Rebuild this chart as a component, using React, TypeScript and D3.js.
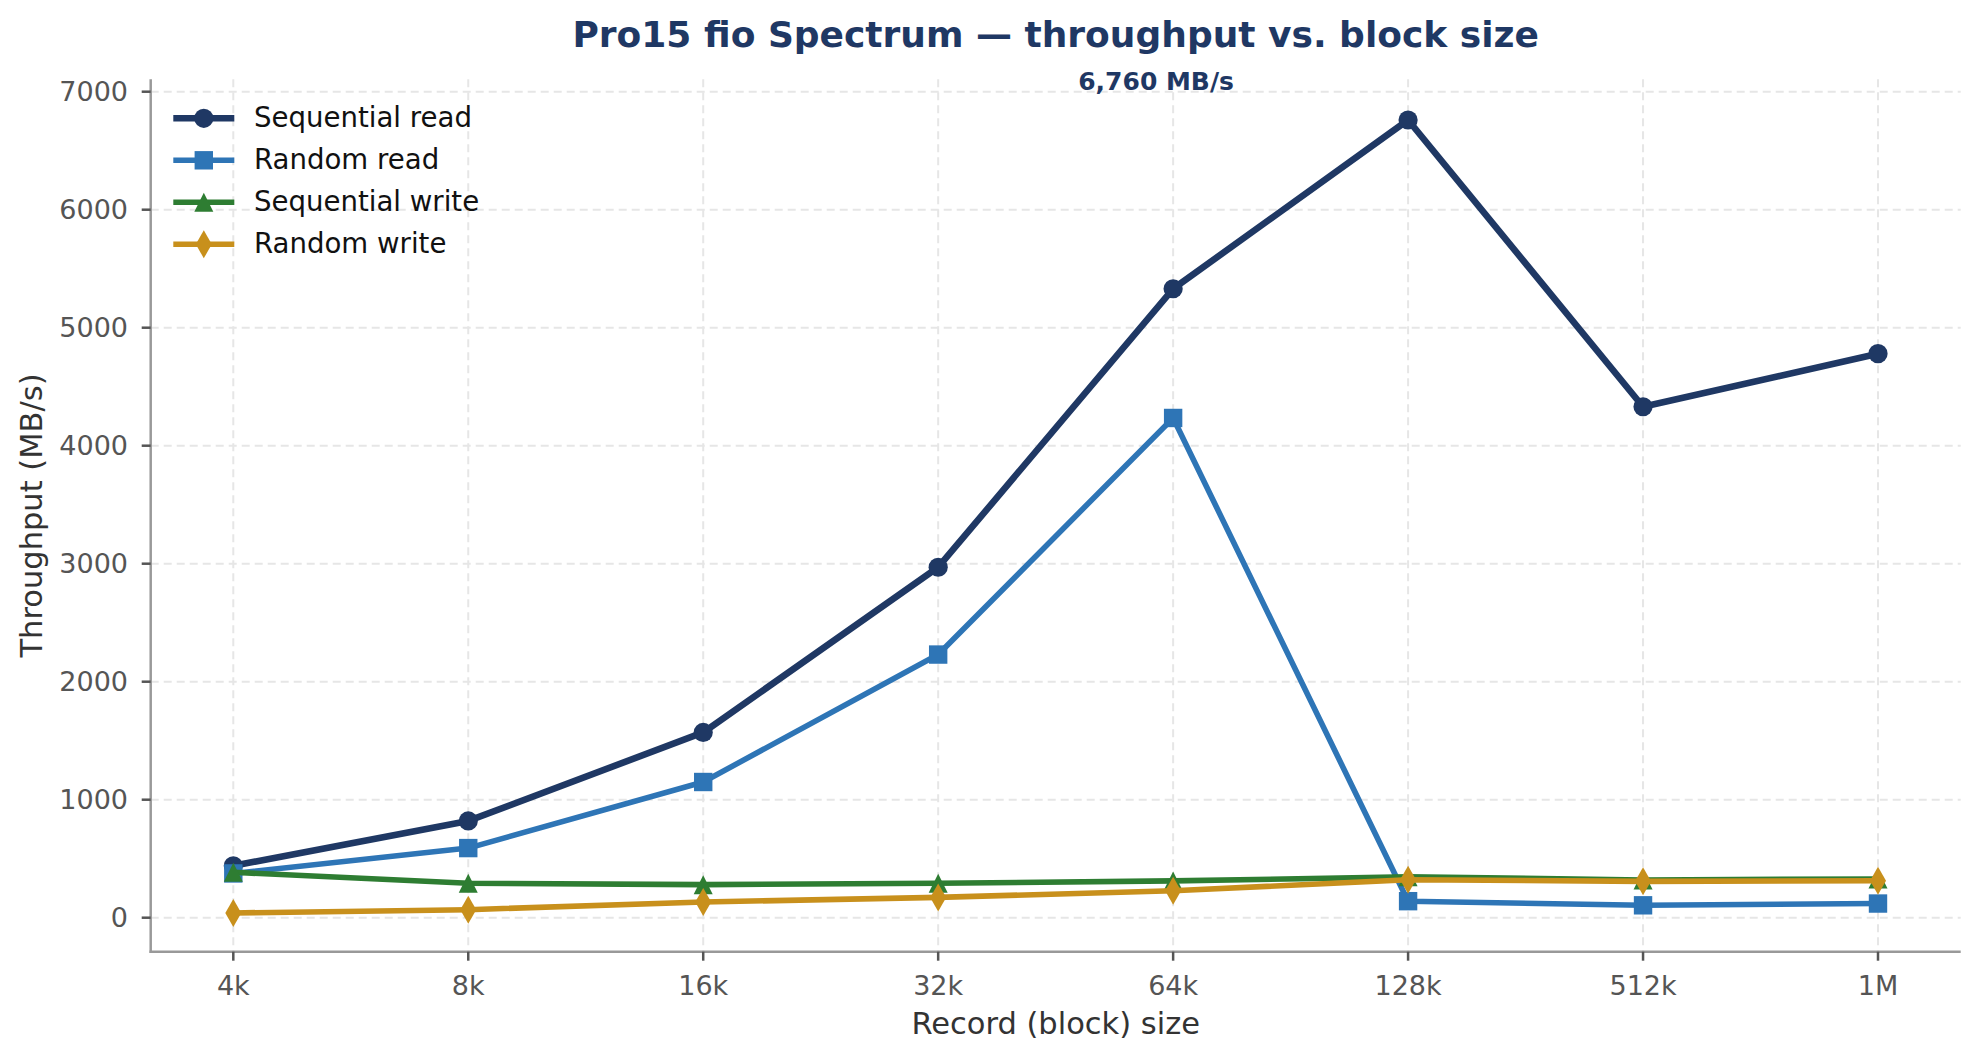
import React from "react";
import * as d3 from "d3";

const categories = ["4k", "8k", "16k", "32k", "64k", "128k", "512k", "1M"];
const seqRead = [440, 820, 1570, 2970, 5330, 6760, 4330, 4780];
const randRead = [375, 590, 1150, 2230, 4235, 140, 105, 120];
const seqWrite = [385, 292, 280, 292, 312, 346, 320, 328];
const randWrite = [40, 68, 133, 172, 228, 322, 308, 313];
const yTicks = [0, 1000, 2000, 3000, 4000, 5000, 6000, 7000];
const seriesNames = ["Sequential read", "Random read", "Sequential write", "Random write"];

const W = 1979;
const H = 1060;
const left = 150.7;
const right = 1960.7;
const top = 79.3;
const bottom = 951.7;
const FONT = "DejaVu Sans, sans-serif";

if (typeof document !== "undefined") {
  document.body.style.margin = "0";
}

type Series = { name: string; values: number[]; color: string; width: number; marker: string };

const series: Series[] = [
  { name: seriesNames[0], values: seqRead, color: "#1f3864", width: 6.6, marker: "circle" },
  { name: seriesNames[1], values: randRead, color: "#2e75b6", width: 5.6, marker: "square" },
  { name: seriesNames[2], values: seqWrite, color: "#2e7d32", width: 5.6, marker: "triangle" },
  { name: seriesNames[3], values: randWrite, color: "#c8901c", width: 5.6, marker: "diamond" },
];

function Marker({ kind, x, y, color }: { kind: string; x: number; y: number; color: string }) {
  if (kind === "circle") return <circle cx={x} cy={y} r={9.6} fill={color} />;
  if (kind === "square") return <rect x={x - 9.2} y={y - 9.2} width={18.4} height={18.4} fill={color} />;
  if (kind === "triangle")
    return <path d={`M${x},${y - 9.5}L${x + 9.5},${y + 9.5}L${x - 9.5},${y + 9.5}Z`} fill={color} />;
  return <path d={`M${x},${y - 14}L${x + 8},${y}L${x},${y + 14}L${x - 8},${y}Z`} fill={color} />;
}

export default function App() {
  const x = d3.scalePoint<string>().domain(categories).range([233.3, 1878]);
  const y = d3.scaleLinear().domain([0, 7000]).range([917.7, 91.7]);
  const line = d3
    .line<number>()
    .x((_, i) => x(categories[i]) as number)
    .y((d) => y(d));

  const peakIdx = seqRead.indexOf(d3.max(seqRead) as number);

  return (
    <svg width={W} height={H} style={{ display: "block", background: "#fff" }} fontFamily={FONT}>
      <rect width={W} height={H} fill="#fff" />
      {/* grid */}
      <g stroke="#e6e6e6" strokeWidth={2} strokeDasharray="8,5">
        {yTicks.map((t) => (
          <line key={"gy" + t} x1={left} x2={right} y1={y(t)} y2={y(t)} />
        ))}
        {categories.map((c) => (
          <line key={"gx" + c} x1={x(c)} x2={x(c)} y1={top} y2={bottom} />
        ))}
      </g>
      {/* spines */}
      <g stroke="#999" strokeWidth={2.5}>
        <line x1={left} x2={left} y1={top} y2={bottom + 1.2} />
        <line x1={left - 1.2} x2={right} y1={bottom} y2={bottom} />
      </g>
      {/* y ticks */}
      <g>
        {yTicks.map((t) => (
          <g key={"ty" + t}>
            <line x1={left - 9} x2={left} y1={y(t)} y2={y(t)} stroke="#555" strokeWidth={2.5} />
            <text x={128} y={y(t)} dy="0.36em" textAnchor="end" fontSize={27} fill="#555">
              {t}
            </text>
          </g>
        ))}
      </g>
      {/* x ticks */}
      <g>
        {categories.map((c) => (
          <g key={"tx" + c}>
            <line x1={x(c)} x2={x(c)} y1={bottom} y2={bottom + 9} stroke="#555" strokeWidth={2.5} />
            <text x={x(c)} y={994.5} textAnchor="middle" fontSize={27} fill="#555">
              {c}
            </text>
          </g>
        ))}
      </g>
      {/* axis labels */}
      <text x={(left + right) / 2} y={1034} textAnchor="middle" fontSize={30.5} fill="#333">
        Record (block) size
      </text>
      <text
        transform={`translate(41.5,${(top + bottom) / 2}) rotate(-90)`}
        textAnchor="middle"
        fontSize={30.5}
        fill="#333"
      >
        Throughput (MB/s)
      </text>
      {/* title */}
      <text x={(left + right) / 2} y={47} textAnchor="middle" fontSize={36} fontWeight="bold" fill="#1f3864">
        Pro15 fio Spectrum — throughput vs. block size
      </text>
      {/* series */}
      {series.map((s) => (
        <g key={s.name}>
          <path d={line(s.values) as string} fill="none" stroke={s.color} strokeWidth={s.width} strokeLinejoin="round" strokeLinecap="butt" />
          {s.values.map((v, i) => (
            <Marker key={i} kind={s.marker} x={x(categories[i]) as number} y={y(v)} color={s.color} />
          ))}
        </g>
      ))}
      {/* annotation */}
      <text
        x={(x(categories[peakIdx]) as number) - 252}
        y={90}
        textAnchor="middle"
        fontSize={25}
        fontWeight="bold"
        fill="#1f3864"
      >
        {d3.format(",")(seqRead[peakIdx])} MB/s
      </text>
      {/* legend */}
      <g>
        {series.map((s, i) => {
          const cy = 118.3 + i * 42;
          return (
            <g key={"lg" + s.name}>
              <line x1={173.3} x2={234.3} y1={cy} y2={cy} stroke={s.color} strokeWidth={s.width} />
              <Marker kind={s.marker} x={203.8} y={cy} color={s.color} />
              <text x={254} y={cy + 8.5} fontSize={27.6} fill="#111">
                {s.name}
              </text>
            </g>
          );
        })}
      </g>
    </svg>
  );
}
